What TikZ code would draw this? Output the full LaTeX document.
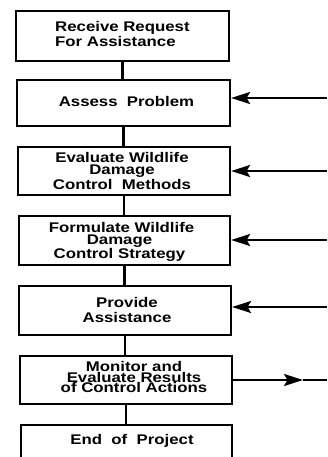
\documentclass[tikz,border=0pt]{standalone}
\usepackage{fontspec}
\newfontfamily\boxfont[FakeStretch=1.2,BoldFeatures={FakeStretch=1.2}]{Liberation Sans}
\newcommand{\bxf}[1]{\boxfont\bfseries\fontsize{14}{#1}\selectfont}
\setlength{\lineskiplimit}{-20pt}
\usetikzlibrary{arrows.meta}
\begin{document}
\begin{tikzpicture}[x=1pt,y=-1pt,
  box/.style={draw=black, line width=2.2pt, inner sep=0pt, fill=none},
  lbl/.style={inner sep=0pt, anchor=base, text width=205pt, align=center},
  conn/.style={line width=2.6pt},
  arr/.style={line width=2.4pt, -{Stealth[length=19pt,width=12pt,inset=3.5pt]}}]
\useasboundingbox (0,0) rectangle (327,457);
\clip (0,0) rectangle (327,457);
\fill[white] (0,0) rectangle (327,457);
% boxes
\node[box, minimum width=213pt, minimum height=50pt] (b1) at (122.5,36) {};
\node[box, minimum width=213pt, minimum height=46pt] (b2) at (123.5,103) {};
\node[box, minimum width=212pt, minimum height=48pt] (b3) at (124,171) {};
\node[box, minimum width=211pt, minimum height=49pt] (b4) at (124.5,240.5) {};
\node[box, minimum width=212pt, minimum height=49pt] (b5) at (125,310.5) {};
\node[box, minimum width=212pt, minimum height=48pt] (b6) at (126,380) {};
\node[box, minimum width=211pt, minimum height=55pt] (b7) at (126.5,452.5) {};
% texts
\node[lbl, anchor=base west, text width=160pt, align=left, font=\bxf{15}] (t1) at (55,32)
  {Receive Request\\For Assistance};
\node[lbl, font=\bxf{15}] (t2) at (126.5,107)
  {Assess~ Problem};
\node[lbl, font=\bxf{13}] (t3) at (122,162)
  {Evaluate Wildlife\hspace*{13pt}\\Damage\\Control~ Methods};
\node[lbl, font=\bxf{12.5}] (t4) at (119.5,232)
  {\hspace*{4pt}Formulate Wildlife\\Damage\\Control Strategy};
\node[lbl, font=\bxf{15}] (t5) at (127,307)
  {Provide\\Assistance};
\node[lbl, font=\bxf{10.6}] (t6) at (134,371.5)
  {Monitor and\\Evaluate Results\\of Control Actions};
\node[lbl, font=\bxf{15}] (t7) at (132,444)
  {End~ of~ Project};
% vertical connectors
\draw[conn] (b1.south) -- (b1.south |- b2.north);
\draw[conn] (b2.south) -- (b2.south |- b3.north);
\draw[conn] (b3.south) -- (b3.south |- b4.north);
\draw[conn] (b4.south) -- (b4.south |- b5.north);
\draw[conn] (b5.south) -- (b5.south |- b6.north);
\draw[conn] (b6.south) -- (b6.south |- b7.north);
% incoming arrows from the right
\coordinate (e2) at (327,98);
\coordinate (e3) at (327,171);
\coordinate (e4) at (327,240);
\coordinate (e5) at (327,307);
\draw[arr] (e2) -- (e2 -| b2.east);
\draw[arr] (e3) -- (e3 -| b3.east);
\draw[arr] (e4) -- (e4 -| b4.east);
\draw[arr] (e5) -- (e5 -| b5.east);
% outgoing arrow
\coordinate (m6) at (303,380);
\coordinate (e6) at (327,380);
\draw[arr] (b6.east) -- (m6);
\draw[line width=2.4pt] (m6) -- (e6);
\end{tikzpicture}
\end{document}
